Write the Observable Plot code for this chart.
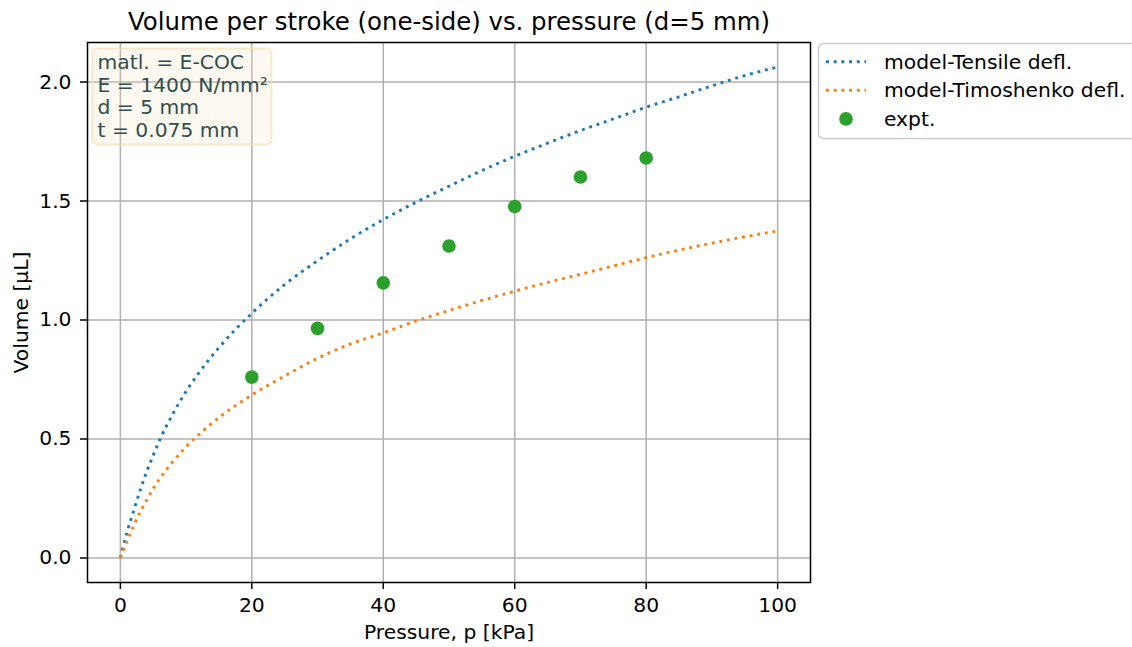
<!DOCTYPE html>
<html><head><meta charset="utf-8">
<script src="https://cdn.jsdelivr.net/npm/d3@7"></script>
<script src="https://cdn.jsdelivr.net/npm/@observablehq/plot@0.6"></script>
<style>body{margin:0;background:#fff;} svg{display:block;}</style>
</head><body><div id="chart"></div>
<script>
// ---- data ----
const pressure = [0,1,2,3,4,5,6,8,10,12,15,20,25,30,35,40,45,50,55,60,65,70,75,80,85,90,95,100];
const tensile = [0,0.107,0.196,0.284,0.362,0.432,0.497,0.606,0.700,0.780,0.884,1.028,1.149,1.249,1.341,1.422,1.495,1.562,1.628,1.688,1.743,1.796,1.845,1.894,1.938,1.984,2.027,2.063];
const timoshenko = [0,0.070,0.134,0.191,0.243,0.292,0.334,0.405,0.467,0.520,0.590,0.685,0.765,0.839,0.899,0.946,0.996,1.040,1.082,1.121,1.158,1.192,1.227,1.262,1.294,1.323,1.350,1.374];
const exptPressure = [20,30,40,50,60,70,80];
const exptVolume = [0.760,0.965,1.156,1.311,1.477,1.601,1.681];
const xTicks = [0,20,40,60,80,100];
const yTicks = [0,0.5,1.0,1.5,2.0];
const seriesNames = ["model-Tensile defl.","model-Timoshenko defl.","expt."];
const infoLines = ["matl. = E-COC","E = 1400 N/mm²","d = 5 mm","t = 0.075 mm"];
const titleText = "Volume per stroke (one-side) vs. pressure (d=5 mm)";
const xLabel = "Pressure, p [kPa]";
const yLabel = "Volume [µL]";

// ---- styles ----
const C_BLUE = "#1f77b4", C_ORANGE = "#ff7f0e", C_GREEN = "#2ca02c";
const FS = 20.3, FS_TITLE = 24.4;
const DASH = "2.9,4.8";

const lineData = [
  ...pressure.map((p,i) => ({p, v: tensile[i], s: seriesNames[0]})),
  ...pressure.map((p,i) => ({p, v: timoshenko[i], s: seriesNames[1]}))
];
const pts = exptPressure.map((p,i) => ({p, v: exptVolume[i]}));

const chart = Plot.plot({
  width: 1132, height: 647,
  marginLeft: 87, marginRight: 322, marginTop: 42, marginBottom: 65,
  style: {fontFamily: "DejaVu Sans", fontSize: FS + "px", color: "black", background: "white", overflow: "hidden"},
  x: {domain: [-5, 105]},
  y: {domain: [-0.103, 2.166]},
  marks: [
    Plot.gridX(xTicks, {stroke: "#b0b0b0", strokeOpacity: 1, strokeWidth: 1.5}),
    Plot.gridY(yTicks, {stroke: "#b0b0b0", strokeOpacity: 1, strokeWidth: 1.5}),
    Plot.line(lineData.filter(d => d.s === seriesNames[0]), {x: "p", y: "v", stroke: C_BLUE, strokeWidth: 2.9, strokeDasharray: DASH, strokeLinecap: "butt", curve: "monotone-x"}),
    Plot.line(lineData.filter(d => d.s === seriesNames[1]), {x: "p", y: "v", stroke: C_ORANGE, strokeWidth: 2.9, strokeDasharray: DASH, strokeLinecap: "butt", curve: "monotone-x"}),
    Plot.dot(pts, {x: "p", y: "v", r: 6.8, fill: C_GREEN, stroke: "none"}),
    Plot.frame({stroke: "black", strokeWidth: 1.5}),
    Plot.axisX(xTicks, {tickSize: 7, tickPadding: 8, strokeWidth: 1.5, label: null, fontSize: FS}),
    Plot.axisY(yTicks, {tickSize: 7, tickPadding: 9, strokeWidth: 1.5, label: null, fontSize: FS, tickFormat: d3.format(".1f")}),
    Plot.text([titleText], {frameAnchor: "top", lineAnchor: "middle", textAnchor: "middle", dy: -20, text: d => d, fontSize: FS_TITLE}),
    Plot.text([xLabel], {frameAnchor: "bottom", lineAnchor: "middle", textAnchor: "middle", dy: 50, text: d => d, fontSize: FS}),
    Plot.text([yLabel], {frameAnchor: "left", lineAnchor: "middle", textAnchor: "middle", dx: -66, rotate: -90, text: d => d, fontSize: FS})
  ]
});
document.getElementById("chart").appendChild(chart);

const svg = d3.select(chart);

// info text box
const box = svg.append("g").attr("text-anchor", "start");
box.append("rect").attr("x", 92.5).attr("y", 48.5).attr("width", 179).attr("height", 96).attr("rx", 5)
  .attr("fill", "#f5deb3").attr("fill-opacity", 0.2).attr("stroke", "#f5deb3").attr("stroke-opacity", 0.7).attr("stroke-width", 1.8);
infoLines.forEach((t, i) => {
  box.append("text").attr("x", 97.5).attr("y", 69.3 + i * 22.5).attr("text-anchor", "start")
    .attr("fill", "#2f4f4f").attr("font-family", "DejaVu Sans").attr("font-size", FS).text(t);
});

// legend
const leg = svg.append("g").attr("text-anchor", "start");
leg.append("rect").attr("x", 818.5).attr("y", 43.5).attr("width", 340).attr("height", 95).attr("rx", 5)
  .attr("fill", "white").attr("fill-opacity", 0.8).attr("stroke", "#cccccc").attr("stroke-width", 1.5);
const legColors = [C_BLUE, C_ORANGE, C_GREEN];
seriesNames.forEach((name, i) => {
  const cy = 61.7 + i * 28.6;
  if (i < 2) {
    leg.append("line").attr("x1", 826).attr("x2", 866).attr("y1", cy).attr("y2", cy)
      .attr("stroke", legColors[i]).attr("stroke-width", 2.9).attr("stroke-dasharray", DASH);
  } else {
    leg.append("circle").attr("cx", 846).attr("cy", cy).attr("r", 6.8).attr("fill", legColors[i]);
  }
  leg.append("text").attr("x", 884).attr("y", cy).attr("dy", "0.35em").attr("text-anchor", "start")
    .attr("font-family", "DejaVu Sans").attr("font-size", FS).attr("fill", "black").text(name);
});
</script>
</body></html>
